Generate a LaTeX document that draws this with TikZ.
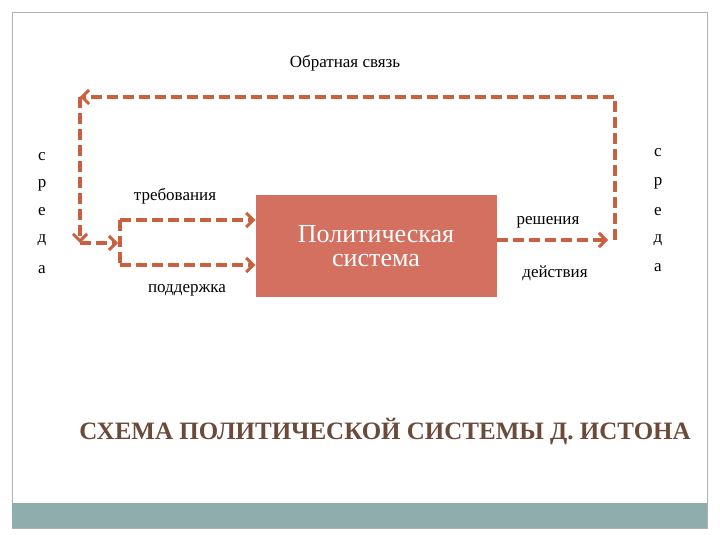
\documentclass[tikz,border=0pt]{standalone}
\usepackage{fontspec}
\setmainfont{Liberation Serif}
\usetikzlibrary{arrows.meta}
\definecolor{boxc}{HTML}{D4705F}
\definecolor{linec}{HTML}{C9603F}
\definecolor{titc}{HTML}{6B4A3A}
\definecolor{barc}{HTML}{8FADAD}
\begin{document}
\begin{tikzpicture}[x=1pt,y=-1pt,
  flow/.style={draw=linec,line width=4pt,dash pattern=on 11pt off 5pt,-{Straight Barb[length=7pt,width=14pt,line width=3pt]}},
  lbl/.style={font=\fontsize{17}{19}\selectfont,text=black}]
\useasboundingbox (0,0) rectangle (720,540);
\fill[white] (0,0) rectangle (720,540);
\draw[gray!60] (12,12) rectangle (707,528);
\fill[barc] (12,503) rectangle (707,528);
\node[fill=boxc,minimum width=241pt,minimum height=102pt,inner sep=0pt,align=center,text=white,font=\fontsize{26}{24}\selectfont] (ps) at (376,246) {Политическая\\система};
\coordinate (r1) at (608,240);
\coordinate (r2) at (615,240);
\coordinate (tr) at (615,97);
\coordinate (tl) at (80,97);
\coordinate (bl) at (80,243);
\coordinate (fork) at (118,243);
\coordinate (ft) at (120,220);
\coordinate (fb) at (120,265);
\draw[flow] (ps.east|-r1) -- (r1);
\draw[flow] (r2) -- (tr) -- (tl);
\draw[flow] (tl) -- (bl);
\draw[flow] (bl) -- (fork);
\draw[draw=linec,line width=4pt,dash pattern=on 11pt off 5pt] (ft) -- (fb);
\draw[flow] (ft) -- (ps.west|-ft);
\draw[flow] (fb) -- (ps.west|-fb);
\node[lbl] (fb1) at (345,63) {Обратная связь};
\node[lbl] (tq) at (175,196) {требования};
\node[lbl] (pd) at (187,290) {поддержка};
\node[lbl] (rs) at (548,222) {решения};
\node[lbl] (dj) at (555,273) {действия};
\foreach \c/\y [count=\i] in {с/157,р/185,е/212,д/240,а/270}
  \node[lbl] (L\i) at (42,\y) {\c};
\foreach \c/\y [count=\i] in {с/153,р/183,е/212,д/240,а/268}
  \node[lbl] (R\i) at (658,\y) {\c};
\node[font=\bfseries\fontsize{25}{27}\selectfont,text=titc] (title) at (385,432) {СХЕМА ПОЛИТИЧЕСКОЙ СИСТЕМЫ Д. ИСТОНА};
\end{tikzpicture}
\end{document}
